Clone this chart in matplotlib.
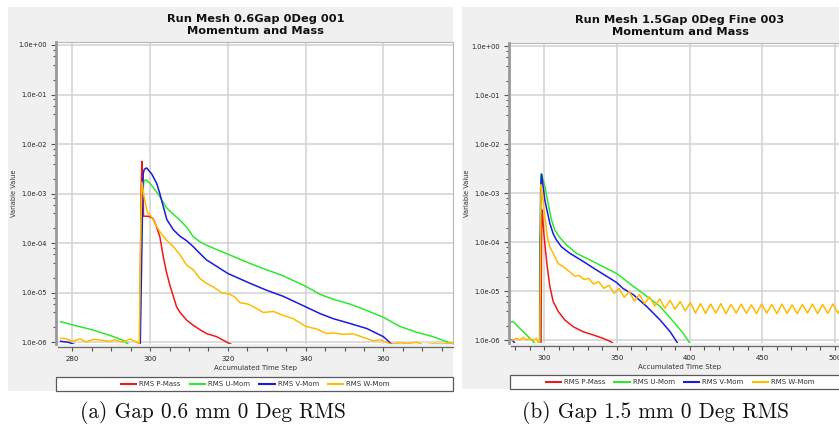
import matplotlib
matplotlib.use('Agg')
import matplotlib.pyplot as plt
from matplotlib.patches import Rectangle
from matplotlib.lines import Line2D
from matplotlib.ticker import FixedLocator, MultipleLocator, FixedFormatter, NullFormatter

# ---------------- data ----------------
series_names = ['RMS P-Mass', 'RMS U-Mom', 'RMS V-Mom', 'RMS W-Mom']
series_colors = ['#f21818', '#2ee82e', '#1a1ae0', '#ffbb00']

titles = ['Run Mesh 0.6Gap 0Deg 001\nMomentum and Mass',
          'Run Mesh 1.5Gap 0Deg Fine 003\nMomentum and Mass']
captions = ['(a) Gap 0.6 mm 0 Deg RMS', '(b) Gap 1.5 mm 0 Deg RMS']

y_ticks = [1e-6, 1e-5, 1e-4, 1e-3, 1e-2, 1e-1, 1e0]
y_tick_labels = ['1.0e-06', '1.0e-05', '1.0e-04', '1.0e-03', '1.0e-02', '1.0e-01', '1.0e+00']
y_minor = [m * d for d in [1e-7, 1e-6, 1e-5, 1e-4, 1e-3, 1e-2, 1e-1] for m in (2, 4, 6, 8)]

# panel (a)
a_p_x = [297.3, 297.7, 297.9, 298.1, 298.3, 298.7, 299.5, 300.7, 301.5, 302.5, 303.4, 304.2,
         305.1, 306.0, 306.8, 307.7, 309.4, 311.1, 312.8, 314.5, 317.1, 320.0, 321.0]
a_p_y = [5e-7, 1.5e-3, 4.5e-3, 1.9e-3, 3.5e-4, 3.5e-4, 3.5e-4, 3.2e-4, 2.3e-4, 1.35e-4, 5.2e-5, 2.6e-5,
         1.4e-5, 8.3e-6, 5.2e-6, 4.0e-6, 2.8e-6, 2.2e-6, 1.8e-6, 1.5e-6, 1.3e-6, 9.8e-7, 9.0e-7]

a_u_x = [277.0, 280.0, 285.0, 290.0, 293.0, 294.5, 297.3, 297.7, 298.4, 298.9, 300.0, 302.0, 304.2,
         306.0, 307.7, 309.4, 311.1, 312.8, 314.5, 320.0, 325.7, 330.0, 334.2, 340.0, 343.7, 347.1,
         351.4, 355.7, 360.0, 364.2, 368.5, 372.8, 376.9, 378.0]
a_u_y = [2.6e-6, 2.25e-6, 1.8e-6, 1.35e-6, 1.1e-6, 9.0e-7, 6e-7, 5e-4, 1.8e-3, 1.9e-3, 1.6e-3, 1.0e-3, 5.2e-4,
         3.8e-4, 2.9e-4, 2.1e-4, 1.35e-4, 1.07e-4, 9.1e-5, 6.0e-5, 3.9e-5, 2.9e-5, 2.2e-5, 1.35e-5, 9.3e-6, 7.4e-6,
         5.9e-6, 4.4e-6, 3.2e-6, 2.1e-6, 1.6e-6, 1.3e-6, 9.8e-7, 9.0e-7]

a_v_x = [277.0, 279.0, 280.6, 283.0, 297.4, 298.2, 298.5, 299.1, 300.4, 301.7, 302.5, 303.4, 304.3,
         306.0, 307.7, 309.4, 311.1, 312.8, 314.5, 320.0, 325.7, 330.0, 334.2, 340.0, 343.7, 347.1,
         351.4, 355.7, 360.0, 362.1, 363.0]
a_v_y = [1.05e-6, 1.0e-6, 9.0e-7, 7e-7, 5e-7, 2.5e-3, 3.1e-3, 3.3e-3, 2.5e-3, 1.6e-3, 1.0e-3, 5.4e-4, 3.0e-4,
         1.85e-4, 1.38e-4, 1.12e-4, 8.5e-5, 6.2e-5, 4.6e-5, 2.45e-5, 1.55e-5, 1.12e-5, 8.5e-6, 5.2e-6, 3.8e-6, 3.0e-6,
         2.4e-6, 1.9e-6, 1.3e-6, 9.2e-7, 8.8e-7]

a_w_x = [277.0, 278.0, 280.0, 282.0, 283.5, 285.5, 287.5, 289.5, 291.0, 293.0, 294.8, 296.5, 297.2,
         297.6, 297.9, 298.5, 299.3, 300.5, 301.5, 302.5, 304.2, 306.0, 307.7, 309.4, 311.1, 312.8, 314.5,
         316.2, 318.4, 320.5, 321.7, 323.1, 325.2, 327.4, 329.1, 331.7, 334.2, 336.8, 340.0, 342.8,
         345.4, 347.1, 349.7, 352.2, 354.8, 357.4, 359.1, 360.5, 362.1, 364.2, 366.0, 368.5, 370.2,
         372.8, 375.5, 377.0, 378.0]
a_w_y = [1.2e-6, 1.2e-6, 1.05e-6, 1.17e-6, 1.02e-6, 1.15e-6, 1.1e-6, 1.05e-6, 1.12e-6, 1.0e-6, 1.17e-6, 1.02e-6, 8.8e-7,
         2e-4, 1.7e-3, 8e-4, 4.2e-4, 3.3e-4, 2.3e-4, 1.7e-4, 1.15e-4, 8.5e-5, 5.8e-5, 3.6e-5, 2.9e-5, 1.95e-5, 1.55e-5,
         1.32e-5, 1.0e-5, 9.3e-6, 8.3e-6, 6.3e-6, 5.9e-6, 4.8e-6, 4.0e-6, 4.2e-6, 3.5e-6, 3.0e-6, 2.1e-6, 1.86e-6,
         1.5e-6, 1.55e-6, 1.45e-6, 1.48e-6, 1.26e-6, 1.07e-6, 1.12e-6, 1.02e-6, 9.1e-7, 9.8e-7, 9.4e-7, 1.0e-6, 8.9e-7,
         9.3e-7, 9.2e-7, 9.8e-7, 9.5e-7]

# panel (b)
b_p_x = [297.8, 298.3, 298.6, 299.8, 300.9, 302.1, 303.9, 306.2, 309.6, 314.2, 319.9, 326.7, 333.6,
         340.4, 346.1, 347.0]
b_p_y = [5e-7, 4.5e-4, 4.6e-4, 1.5e-4, 6.9e-5, 3.2e-5, 1.26e-5, 6.2e-6, 3.9e-6, 2.6e-6, 1.9e-6, 1.5e-6, 1.29e-6,
         1.1e-6, 9.3e-7, 8.8e-7]

b_u_x = [277.5, 278.9, 282.0, 285.6, 290.2, 293.6, 296.8, 297.0, 297.4, 297.9, 298.2, 300.5, 302.7,
         305.0, 307.3, 310.7, 315.3, 322.1, 331.3, 340.4, 350.0, 358.7, 367.8, 372.4, 379.7, 388.9,
         395.7, 400.0, 401.0]
b_u_y = [2.4e-6, 2.4e-6, 1.9e-6, 1.5e-6, 1.1e-6, 8.7e-7, 5e-7, 1.2e-4, 1.6e-4, 2.5e-3, 2.5e-3, 1.38e-3, 6.3e-4,
         2.9e-4, 1.78e-4, 1.26e-4, 8.9e-5, 6.0e-5, 4.4e-5, 3.2e-5, 2.3e-5, 1.45e-5, 9.1e-6, 7.2e-6, 4.9e-6, 2.4e-6,
         1.38e-6, 8.9e-7, 8.5e-7]

b_v_x = [277.5, 279.0, 280.5, 296.9, 297.6, 298.2, 299.3, 300.5, 302.1, 303.9, 306.2, 308.4, 311.9,
         317.6, 326.7, 335.8, 345.0, 350.0, 354.1, 361.4, 370.5, 379.7, 386.6, 391.2, 392.0]
b_v_y = [1.02e-6, 9.5e-7, 8e-7, 5e-7, 1.3e-3, 2.45e-3, 1.38e-3, 7.2e-4, 4.3e-4, 2.45e-4, 1.5e-4, 1.12e-4, 8.1e-5,
         6.0e-5, 4.1e-5, 2.75e-5, 1.86e-5, 1.5e-5, 1.15e-5, 8.5e-6, 4.9e-6, 2.6e-6, 1.5e-6, 9.3e-7, 8.5e-7]

b_w_x = [277.5, 278.8, 281.0, 283.4, 285.6, 287.9, 290.2, 292.5, 294.7, 295.9, 296.9, 297.3, 297.8,
         298.3, 299.3, 300.5, 302.1, 303.9, 306.2, 309.6, 313.0, 317.6, 321.0, 324.0, 327.5, 330.5,
         334.0, 337.5, 341.0, 344.5, 348.0, 351.5, 355.0, 358.5, 362.0, 365.5, 369.0, 372.5, 376.0,
         379.5, 383.0, 386.5, 390.0, 393.5, 397.0, 400.5, 404.0, 407.5, 411.0, 414.5, 418.0, 421.5,
         425.0, 428.5, 432.0, 435.5, 439.0, 442.5, 446.0, 449.5, 453.0, 456.5, 460.0, 463.5, 467.0,
         470.5, 474.0, 477.5, 481.0, 484.5, 488.0, 491.5, 495.0, 498.5, 502.0, 505.5, 509.0]
b_w_y = [1.0e-6, 1.02e-6, 1.1e-6, 1.02e-6, 1.15e-6, 1.02e-6, 1.1e-6, 1.0e-6, 1.1e-6, 8.9e-7, 5e-7, 1.0e-5, 1.5e-3,
         1.2e-3, 7.2e-4, 3.3e-4, 1.32e-4, 8.1e-5, 6.0e-5, 3.7e-5, 3.2e-5, 2.5e-5, 2.04e-5, 2.11e-5, 1.74e-5, 1.84e-5,
         1.41e-5, 1.57e-5, 1.15e-5, 1.33e-5, 9.1e-6, 1.14e-5, 7.6e-6, 9.9e-6, 6.3e-6, 8.6e-6, 5.6e-6, 7.7e-6, 5.0e-6,
         7.0e-6, 4.5e-6, 6.6e-6, 4.3e-6, 6.2e-6, 4.0e-6, 5.9e-6, 3.6e-6, 5.6e-6, 3.55e-6, 5.5e-6, 3.6e-6, 5.6e-6,
         3.5e-6, 5.4e-6, 3.6e-6, 5.5e-6, 3.55e-6, 5.3e-6, 3.5e-6, 5.5e-6, 3.6e-6, 5.4e-6, 3.5e-6, 5.5e-6, 3.55e-6,
         5.3e-6, 3.5e-6, 5.4e-6, 3.6e-6, 5.5e-6, 3.5e-6, 5.4e-6, 3.55e-6, 5.5e-6, 3.6e-6, 5.4e-6, 3.5e-6]

panel_a = [(a_p_x, a_p_y), (a_u_x, a_u_y), (a_v_x, a_v_y), (a_w_x, a_w_y)]
panel_b = [(b_p_x, b_p_y), (b_u_x, b_u_y), (b_v_x, b_v_y), (b_w_x, b_w_y)]

# ---------------- layout ----------------
W, H = 839, 438
fig = plt.figure(figsize=(W / 100, H / 100), dpi=100)
fig.patch.set_facecolor('white')


def fx(px):
    return px / W


def fy(py):
    return 1 - py / H


def frect(x0, y0, x1, y1, **kw):
    r = Rectangle((fx(x0), fy(y1)), fx(x1) - fx(x0), fy(y0) - fy(y1),
                  transform=fig.transFigure, **kw)
    fig.patches.append(r)


# gray panel backgrounds
frect(8, 7, 453, 391, fc='#f0f0f0', ec='none', zorder=-3)
frect(462, 7, 900, 389, fc='#f0f0f0', ec='none', zorder=-3)

panels = [
    dict(data=panel_a, rect=(58, 42, 453, 344), xlim=(276.3, 377.9), ylim=(10 ** -6.034, 10 ** 0.06),
         major=20, minor=5, ylab_x=-0.105, legend_box=(56, 377, 453, 391), cap_x=213),
    dict(data=panel_b, rect=(511, 43, 849, 343), xlim=(277.2, 509.6), ylim=(10 ** -6.055, 10 ** 0.07),
         major=50, minor=10, ylab_x=-0.121, legend_box=(510, 375, 860, 389), cap_x=655.5),
]

for i, pnl in enumerate(panels):
    x0, y0, x1, y1 = pnl['rect']
    ax = fig.add_axes([fx(x0), fy(y1), fx(x1) - fx(x0), fy(y0) - fy(y1)])
    ax.set_facecolor('white')
    for (xs, ys), c in zip(pnl['data'], series_colors):
        ax.plot(xs, ys, color=c, lw=1.1, solid_joinstyle='round')
    ax.set_yscale('log')
    ax.set_xlim(*pnl['xlim'])
    ax.set_ylim(*pnl['ylim'])
    ax.yaxis.set_major_locator(FixedLocator(y_ticks))
    ax.yaxis.set_major_formatter(FixedFormatter(y_tick_labels))
    ax.yaxis.set_minor_locator(FixedLocator(y_minor))
    ax.yaxis.set_minor_formatter(NullFormatter())
    ax.xaxis.set_major_locator(MultipleLocator(pnl['major']))
    ax.xaxis.set_minor_locator(MultipleLocator(pnl['minor']))
    ax.grid(True, which='major', color='#d2d2d2', lw=1.1)
    ax.set_axisbelow(True)

    ax.tick_params(axis='y', which='major', direction='out', length=3.6, width=0.8,
                   color='#555555', pad=2.5, labelsize=4.8, labelcolor='#222222')
    ax.tick_params(axis='y', which='minor', direction='out', length=2.0, width=0.8, color='#555555')
    ax.tick_params(axis='x', which='both', direction='out', length=3.0, width=0.8,
                   color='#555555', pad=3.5, labelsize=5, labelcolor='#222222')

    ax.spines['left'].set_position(('outward', 1.8))
    ax.spines['left'].set_color('#9a9a9a')
    ax.spines['left'].set_linewidth(2.0)
    ax.spines['bottom'].set_position(('outward', 2.2))
    ax.spines['bottom'].set_color('#666666')
    ax.spines['bottom'].set_linewidth(0.9)
    for s in ('top', 'right'):
        ax.spines[s].set_color('#b8b8b8')
        ax.spines[s].set_linewidth(0.8)

    ax.set_ylabel('Variable Value', fontsize=4.8, color='#333333')
    ax.yaxis.set_label_coords(pnl['ylab_x'], 0.5)
    ax.set_xlabel('Accumulated Time Step', fontsize=5, color='#333333')
    ax.xaxis.set_label_coords(0.5, -0.071)

    ax.set_title(titles[i], fontsize=8.2, fontweight='bold', pad=5.5, linespacing=1.25, color='#111111')

    # legend box
    lx0, ly0, lx1, ly1 = pnl['legend_box']
    frect(lx0, ly0, lx1, ly1, fc='white', ec='#5a5a5a', lw=0.9, zorder=-2)
    handles = [Line2D([], [], color=c, lw=1.5) for c in series_colors]
    fig.legend(handles, series_names, loc='center',
               bbox_to_anchor=(fx((x0 + x1) / 2), fy((ly0 + ly1) / 2)),
               ncol=4, frameon=False, fontsize=5, handlelength=2.2,
               handletextpad=0.45, columnspacing=1.3, borderpad=0,
               labelcolor='#333333')

    fig.text(fx(pnl['cap_x']), fy(412), captions[i], family='cmr10', fontsize=15.3,
             ha='center', va='center', color='#111111')

fig.savefig('out.png', dpi=100)
